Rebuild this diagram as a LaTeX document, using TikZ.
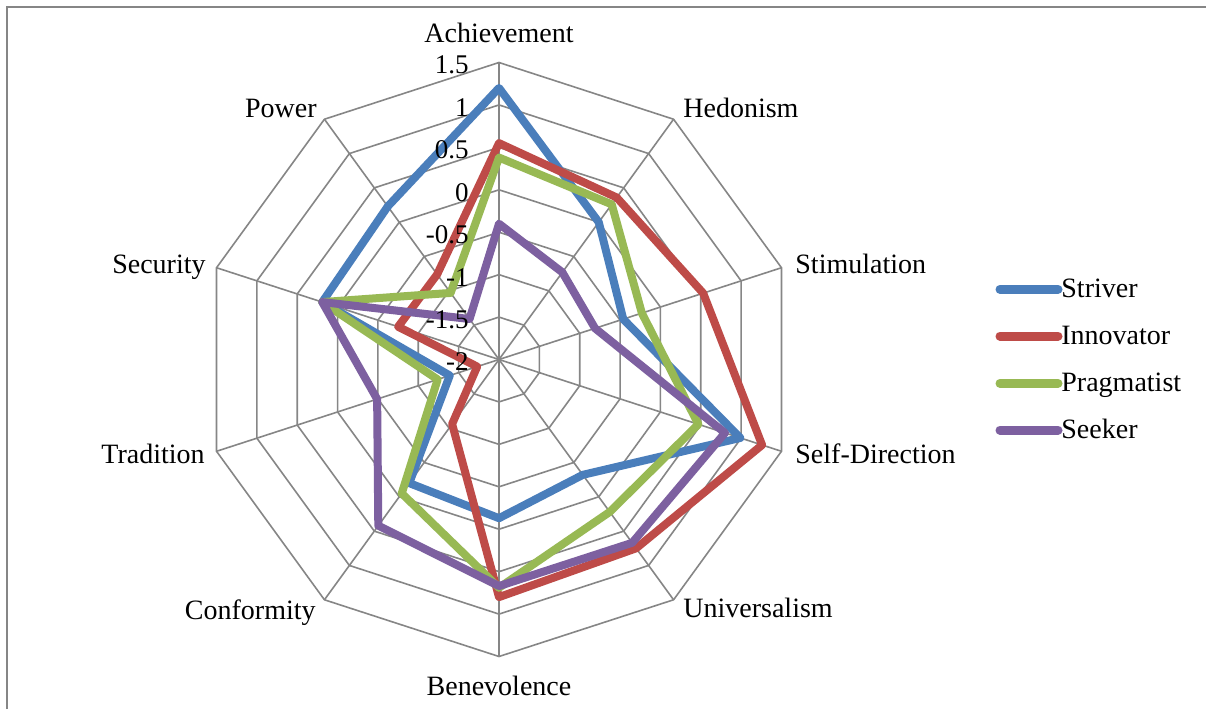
\documentclass[tikz,border=0pt]{standalone}
\usepackage{fontspec}
\setmainfont{Liberation Serif}
\definecolor{cstriver}{HTML}{4A7EBB}
\definecolor{cinnov}{HTML}{BE4B48}
\definecolor{cprag}{HTML}{98B954}
\definecolor{cseek}{HTML}{7D60A0}
\definecolor{gridgray}{HTML}{868686}
\tikzset{
  gridline/.style={draw=gridgray, line width=0.8pt},
  framebox/.style={draw=gridgray, line width=1.2pt},
  serieslw/.style={line width=4pt, line join=round},
  striverline/.style={serieslw, draw=cstriver},
  innovline/.style={serieslw, draw=cinnov},
  pragline/.style={serieslw, draw=cprag},
  seekline/.style={serieslw, draw=cseek},
  legline/.style={line width=4.5pt, line cap=round},
  axislab/.style={inner sep=0pt, font=\fontsize{14pt}{16pt}\selectfont},
  ticklab/.style={inner sep=0pt, anchor=east, font=\fontsize{13.5pt}{16pt}\selectfont},
  legtext/.style={inner sep=0pt, anchor=base west, font=\fontsize{14pt}{16pt}\selectfont},
}
\begin{document}
\begin{tikzpicture}[x=0.5pt,y=-0.5pt]
\useasboundingbox (0,0) rectangle (1206,709);
\fill[white] (0,0) rectangle (1206,709);
\draw[framebox] (7,709) -- (7,7) -- (1206,7);

\coordinate (c) at (499,359.5);
% rings
\foreach \i in {1,...,7}{
  \pgfmathsetmacro\rr{\i*42.4286}
  \draw[gridline] (499,{359.5-\rr}) \foreach \k in {1,...,9}{ -- ({499+\rr*sin(36*\k)},{359.5-\rr*cos(36*\k)})} -- cycle;
}
% spokes
\foreach \k in {0,...,9}{
  \coordinate (v\k) at ({499+297*sin(36*\k)},{359.5-297*cos(36*\k)});
  \draw[gridline] (c) -- (v\k);
}

% data
\foreach \v [count=\k from 0] in {1.2,0.0,-0.46,0.99,-0.32,-0.13,-0.2,-1.39,0.19,0.23}{
  \pgfmathsetmacro\rr{(\v+2)*84.857}
  \coordinate (ptS\k) at ({499+\rr*sin(36*\k)},{359.5-\rr*cos(36*\k)});
}
\foreach \v [count=\k from 0] in {0.55,0.36,0.53,1.26,0.75,0.80,-1.06,-1.73,-0.75,-0.76}{
  \pgfmathsetmacro\rr{(\v+2)*84.857}
  \coordinate (ptI\k) at ({499+\rr*sin(36*\k)},{359.5-\rr*cos(36*\k)});
}
\foreach \v [count=\k from 0] in {0.38,0.26,-0.23,0.47,0.22,0.69,-0.05,-1.24,0.19,-1.03}{
  \pgfmathsetmacro\rr{(\v+2)*84.857}
  \coordinate (ptP\k) at ({499+\rr*sin(36*\k)},{359.5-\rr*cos(36*\k)});
}
\foreach \v [count=\k from 0] in {-0.40,-0.73,-0.81,0.80,0.67,0.67,0.42,-0.49,0.19,-1.41}{
  \pgfmathsetmacro\rr{(\v+2)*84.857}
  \coordinate (ptK\k) at ({499+\rr*sin(36*\k)},{359.5-\rr*cos(36*\k)});
}

\draw[striverline] (ptS0) -- (ptS1) -- (ptS2) -- (ptS3) -- (ptS4) -- (ptS5) -- (ptS6) -- (ptS7) -- (ptS8) -- (ptS9) -- cycle;
\draw[innovline] (ptI0) -- (ptI1) -- (ptI2) -- (ptI3) -- (ptI4) -- (ptI5) -- (ptI6) -- (ptI7) -- (ptI8) -- (ptI9) -- cycle;
\draw[pragline] (ptP0) -- (ptP1) -- (ptP2) -- (ptP3) -- (ptP4) -- (ptP5) -- (ptP6) -- (ptP7) -- (ptP8) -- (ptP9) -- cycle;
\draw[seekline] (ptK0) -- (ptK1) -- (ptK2) -- (ptK3) -- (ptK4) -- (ptK5) -- (ptK6) -- (ptK7) -- (ptK8) -- (ptK9) -- cycle;

% tick labels
\foreach \i/\t in {0/-2,1/-1.5,2/-1,3/-0.5,4/0,5/0.5,6/1,7/1.5}
  \node[ticklab] (t\i) at (469,{359.5-\i*42.4286+2.5}) {\t};

% axis labels
\node[axislab, anchor=base] (lAch) at (499,42) {Achievement};
\node[axislab, anchor=base west] (lHed) at (683,117) {Hedonism};
\node[axislab, anchor=base west] (lSti) at (795,273) {Stimulation};
\node[axislab, anchor=base west] (lSel) at (795,463) {Self-Direction};
\node[axislab, anchor=base west] (lUni) at (683,617) {Universalism};
\node[axislab, anchor=base] (lBen) at (499,695) {Benevolence};
\node[axislab, anchor=base east] (lCon) at (316,619) {Conformity};
\node[axislab, anchor=base east] (lTra) at (205,463) {Tradition};
\node[axislab, anchor=base east] (lSec) at (206,273) {Security};
\node[axislab, anchor=base east] (lPow) at (317,117) {Power};

% legend
\coordinate (g1a) at (1000,289.3); \coordinate (g1b) at (1058,289.3);
\coordinate (g2a) at (1000,336);   \coordinate (g2b) at (1058,336);
\coordinate (g3a) at (1000,383.3); \coordinate (g3b) at (1058,383.3);
\coordinate (g4a) at (1000,430);   \coordinate (g4b) at (1058,430);
\draw[legline, draw=cstriver] (g1a) -- (g1b);
\draw[legline, draw=cinnov] (g2a) -- (g2b);
\draw[legline, draw=cprag] (g3a) -- (g3b);
\draw[legline, draw=cseek] (g4a) -- (g4b);
\node[legtext] (n1) at (1061,297.3) {Striver};
\node[legtext] (n2) at (1061,344) {Innovator};
\node[legtext] (n3) at (1061,391.5) {Pragmatist};
\node[legtext] (n4) at (1061,438) {Seeker};
\end{tikzpicture}
\end{document}
